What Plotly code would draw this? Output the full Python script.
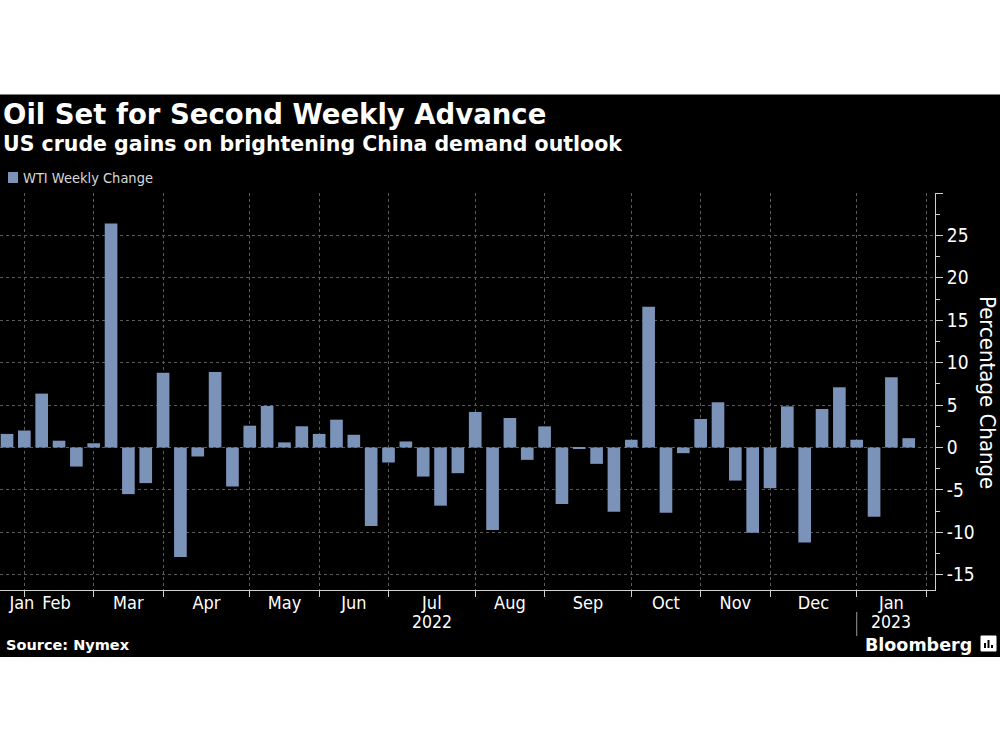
import pandas as pd
import plotly.graph_objects as go

# ---------------- data ----------------
first_week = "2022-01-28"
n_weeks = 53
weeks = pd.date_range(first_week, periods=n_weeks, freq="7D")
wti_weekly_change = [
    1.6, 2.0, 6.35, 0.8, -2.25, 0.5, 26.4, -5.5, -4.2, 8.8,
    -12.9, -1.06, 8.9, -4.6, 2.57, 4.9, 0.6, 2.5, 1.6, 3.28,
    1.5, -9.27, -1.77, 0.71, -3.43, -6.86, -3.03, 4.19, -9.74, 3.48,
    -1.46, 2.49, -6.66, -0.1, -1.93, -7.57, 0.91, 16.6, -7.69, -0.67,
    3.36, 5.33, -3.9, -10.06, -4.8, 4.85, -11.2, 4.54, 7.1, 0.91,
    -8.17, 8.28, 1.1,
]
month_tick_dates = [
    "2022-02-04", "2022-03-04", "2022-04-01", "2022-05-06", "2022-06-03",
    "2022-07-01", "2022-08-05", "2022-09-02", "2022-10-07", "2022-11-04",
    "2022-12-02", "2023-01-06", "2023-02-03",
]
month_label_text = ["Jan", "Feb", "Mar", "Apr", "May", "Jun", "Jul",
                    "Aug", "Sep", "Oct", "Nov", "Dec", "Jan"]
year_labels = ["2022", "2023"]
year_label_month_index = [6, 12]
jan_2022_label_date = "2022-02-03"
y_tick_vals = [-15, -10, -5, 0, 5, 10, 15, 20, 25, 30]
y_tick_text = ["-15", "-10", "-5", "0", "5", "10", "15", "20", "25", ""]
year_split_date = "2023-01-06"

title = "Oil Set for Second Weekly Advance"
subtitle = "US crude gains on brightening China demand outlook"
series_name = "WTI Weekly Change"
y_title = "Percentage Change"
source = "Source: Nymex"

# ---------------- derived ----------------
tick_ts = pd.to_datetime(month_tick_dates)
label_dates = [pd.Timestamp(jan_2022_label_date)] + [
    tick_ts[i] + (tick_ts[i + 1] - tick_ts[i]) / 2 for i in range(len(tick_ts) - 1)
]
label_dates[1] = label_dates[1] - pd.Timedelta(days=1)

BAR = "#7b92b9"
GRID = "#5a5a5a"
AXIS = "#cfcfcf"
FONT = "DejaVu Sans"
COND = "DejaVu Sans Condensed, DejaVu Sans"

# layout geometry (px)
W, H = 1000, 750
L, R, T, B = 0, 65, 193, 160
PW, PH = W - L - R, H - T - B


def px(x):
    return (x - L) / PW


def py(y):
    return (H - B - y) / PH


x0 = weeks[0] - pd.Timedelta(days=2.83)
x1 = weeks[0] + pd.Timedelta(days=374.6)

fig = go.Figure()
fig.add_trace(go.Bar(
    x=weeks, y=wti_weekly_change, name=series_name,
    marker=dict(color=BAR, line=dict(width=0)),
    showlegend=False,
))
# invisible trace to carry the label axis
fig.add_trace(go.Scatter(x=[weeks[0]], y=[0], xaxis="x2", mode="markers",
                         marker=dict(opacity=0), showlegend=False, hoverinfo="skip"))

fig.update_layout(
    width=W, height=H,
    margin=dict(l=L, r=R, t=T, b=B),
    paper_bgcolor="white",
    plot_bgcolor="black",
    bargap=0.27,
    font=dict(family=COND, color="white", size=18),
    xaxis=dict(
        type="date", range=[x0, x1],
        tickmode="array", tickvals=month_tick_dates, showticklabels=False,
        ticks="outside", ticklen=6, tickcolor=AXIS, tickwidth=1,
        showgrid=True, gridcolor=GRID, griddash="dot", gridwidth=1,
        showline=True, linecolor=AXIS, linewidth=1,
        zeroline=False,
    ),
    xaxis2=dict(
        type="date", range=[x0, x1], overlaying="x", side="bottom",
        tickmode="array", tickvals=label_dates, ticktext=month_label_text,
        ticks="", showgrid=False, showline=False, zeroline=False,
        tickfont=dict(family=COND, size=18, color="white"),
    ),
    yaxis=dict(
        side="right", range=[-16.8, 30],
        tickmode="array", tickvals=y_tick_vals, ticktext=y_tick_text,
        ticks="outside", ticklen=7, tickcolor=AXIS, tickwidth=1,
        minor=dict(dtick=2.5, ticks="outside", ticklen=4, tickcolor=AXIS, showgrid=False),
        showgrid=True, gridcolor=GRID, griddash="dot", gridwidth=1,
        showline=True, linecolor=AXIS, linewidth=1,
        zeroline=False,
        tickfont=dict(family=COND, size=19, color="white"),
    ),
)

# Bloomberg icon (rounded square with little bars)
ix0, ix1, iy0, iy1 = px(981), px(996), py(651), py(636)
shapes = [
    dict(type="rect", xref="paper", yref="paper", x0=-0.02, x1=px(1005),
         y0=py(657), y1=py(94.5), fillcolor="black", line=dict(width=0), layer="below"),
    dict(type="rect", xref="paper", yref="paper", x0=px(8), x1=px(18),
         y0=py(183), y1=py(172), fillcolor=BAR, line=dict(width=0)),
    dict(type="line", xref="x", yref="paper", x0=year_split_date, x1=year_split_date,
         y0=py(612), y1=py(636), line=dict(color="#9a9a9a", width=1)),
    dict(type="rect", xref="paper", yref="paper", x0=ix0, x1=ix1,
         y0=iy0, y1=iy1, fillcolor="white", line=dict(color="white", width=1)),
]
for bx, top in [(985, 643), (988.5, 640), (992, 645)]:
    shapes.append(dict(type="line", xref="paper", yref="paper", x0=px(bx), x1=px(bx),
                       y0=py(648), y1=py(top), line=dict(color="black", width=2)))
fig.update_layout(shapes=shapes)

ann = [
    dict(text=title, x=px(1), y=py(114), xanchor="left", yanchor="middle",
         font=dict(family=FONT, size=27.5, color="white", weight="bold")),
    dict(text=subtitle, x=px(1), y=py(143.5), xanchor="left", yanchor="middle",
         font=dict(family=FONT, size=20.5, color="white", weight="bold")),
    dict(text=series_name, x=px(21), y=py(178), xanchor="left", yanchor="middle",
         font=dict(family=COND, size=14.5, color="#d8d8d8")),
    dict(text=y_title, x=px(988), y=py(392), xanchor="center", yanchor="middle",
         textangle=90, font=dict(family=COND, size=22, color="white")),
    dict(text=source, x=px(4), y=py(645), xanchor="left", yanchor="middle",
         font=dict(family=FONT, size=14.5, color="white", weight="bold")),
    dict(text="Bloomberg", x=px(974), y=py(645), xanchor="right", yanchor="middle",
         font=dict(family=FONT, size=17.5, color="white", weight="bold")),
]
for a in ann:
    a.update(xref="paper", yref="paper", showarrow=False)
for yl, mi in zip(year_labels, year_label_month_index):
    ann.append(dict(text=yl, x=label_dates[mi], xref="x", y=py(622), yref="paper",
                    xanchor="center", yanchor="middle", showarrow=False,
                    font=dict(family=COND, size=17.5, color="white")))
fig.update_layout(annotations=ann)

fig.write_html("out.html")
